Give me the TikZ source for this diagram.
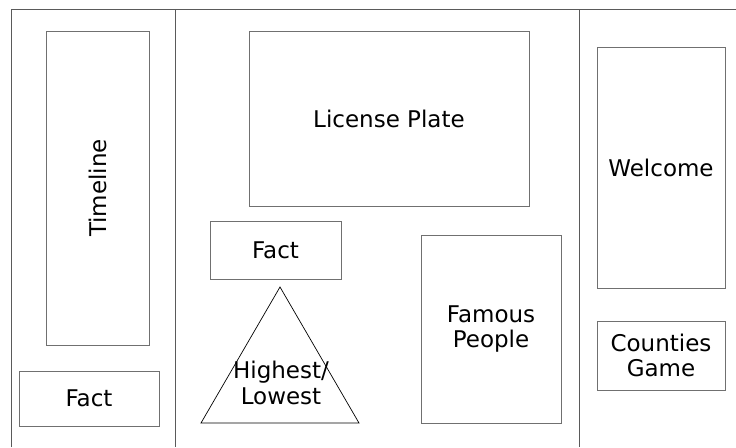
\documentclass[tikz,border=0pt]{standalone}
\usepackage{fontspec}
\setmainfont{DejaVu Sans}
\definecolor{framegray}{HTML}{5A5A5A}
\definecolor{boxgray}{HTML}{707070}

\begin{document}
\begin{tikzpicture}[
    x=1pt, y=-1pt,
    font=\fontsize{23}{25.5}\selectfont,
    frame/.style={
        draw=framegray,
        line width=1pt
    },
    box/.style={
        draw=boxgray,
        line width=1pt,
        inner sep=0pt,
        align=center
    },
    label/.style={
        inner sep=0pt,
        align=center
    }
]
\useasboundingbox (0,0) rectangle (736,447);
% page frame and column dividers
\draw [frame] (11,447) -- (11,9) -- (736,9);
\draw [frame] (175,9) -- (175,447);
\draw [frame] (579,9) -- (579,447);

% left column
\node [box, minimum width=103pt, minimum height=314pt] (timeline) at (97.5,188) {};
\node [label, rotate=90] (timeline text) at (timeline.center) {Timeline};
\node [box, minimum width=140pt, minimum height=55pt] (fact left) at (89,398.5) {Fact};

% middle column
\node [box, minimum width=280pt, minimum height=175pt] (plate) at (389,118.5) {License Plate};
\node [box, minimum width=131pt, minimum height=58pt] (fact mid) at (275.5,250) {Fact};
\node [box, minimum width=140pt, minimum height=188pt] (famous) at (491,329) {Famous\\People};
\coordinate (tri top) at (280,287);
\coordinate (tri left) at (201,423);
\coordinate (tri right) at (359,423);
\draw [line width=0.7pt] (tri top) -- (tri left) -- (tri right) -- cycle;
\node [label] (extremes) at (281,383) {Highest/\\Lowest};

% right column
\node [box, minimum width=128pt, minimum height=241pt] (welcome) at (661,167.5) {Welcome};
\node [box, minimum width=128pt, minimum height=69pt] (counties) at (661,355.5) {Counties\\Game};
\end{tikzpicture}
\end{document}
